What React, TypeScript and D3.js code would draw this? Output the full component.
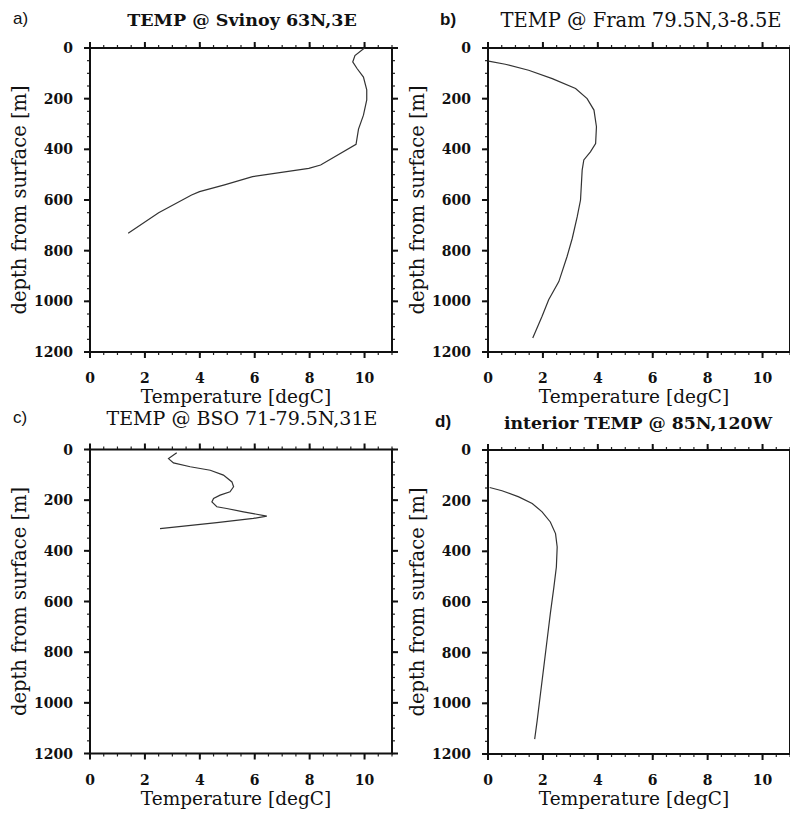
import React from "react";
import * as d3 from "d3";

// ---- data ----
const svinoyDepth = [0, 30, 55, 80, 115, 165, 205, 265, 320, 380, 462, 475, 508, 540, 567, 580, 650, 731];
const svinoyTemp = [10.0, 9.65, 9.57, 9.72, 9.96, 10.08, 10.08, 9.96, 9.78, 9.69, 8.4, 7.97, 5.92, 4.9, 3.99, 3.7, 2.5, 1.39];

const framDepth = [52, 64, 88, 121, 160, 200, 245, 311, 377, 410, 442, 482, 600, 666, 751, 823, 922, 994, 1059, 1145];
const framTemp = [0.02, 0.63, 1.48, 2.34, 3.19, 3.61, 3.86, 3.95, 3.92, 3.73, 3.49, 3.43, 3.37, 3.25, 3.07, 2.88, 2.58, 2.21, 1.97, 1.63];

const bsoDepth = [13, 36, 53, 68, 82, 101, 128, 147, 167, 180, 193, 207, 226, 233, 246, 263, 272, 289, 312];
const bsoTemp = [3.16, 2.86, 3.04, 3.65, 4.38, 4.86, 5.17, 5.23, 5.1, 4.74, 4.5, 4.44, 4.62, 4.98, 5.59, 6.44, 5.95, 4.62, 2.55];

const interiorDepth = [148, 161, 185, 211, 244, 284, 330, 383, 462, 541, 646, 752, 858, 963, 1069, 1141];
const interiorTemp = [0.06, 0.51, 1.12, 1.61, 1.97, 2.27, 2.46, 2.52, 2.49, 2.4, 2.27, 2.15, 2.03, 1.91, 1.79, 1.7];

const panelLabels = ["a)", "b)", "c)", "d)"];
const panelTitles = [
  "TEMP @ Svinoy 63N,3E",
  "TEMP @ Fram 79.5N,3-8.5E",
  "TEMP @ BSO 71-79.5N,31E",
  "interior TEMP @ 85N,120W",
];
const xTickValues = [0, 2, 4, 6, 8, 10];
const yTickValues = [0, 200, 400, 600, 800, 1000, 1200];
const xMinorStep = 0.5;
const yMinorStep = 50;
const xDomain: [number, number] = [0, 11];
const yDomain: [number, number] = [0, 1200];
const xAxisTitle = "Temperature [degC]";
const yAxisTitle = "depth from surface [m]";

const seriesDepths = [svinoyDepth, framDepth, bsoDepth, interiorDepth];
const seriesTemps = [svinoyTemp, framTemp, bsoTemp, interiorTemp];

// ---- layout ----
const W = 790;
const H = 813;
const PW = 302;
const PH = 304;
const panelPos = [
  { left: 90, top: 48, titleBase: 26, titleX: 242, titleSize: 17.5, bold: true, labelX: 13, labelBold: false },
  { left: 488, top: 48, titleBase: 27, titleX: 641, titleSize: 19.5, bold: false, labelX: 440, labelBold: true },
  { left: 90, top: 449.5, titleBase: 425, titleX: 242, titleSize: 19, bold: false, labelX: 13, labelBold: false },
  { left: 488, top: 450, titleBase: 429, titleX: 638, titleSize: 17.3, bold: true, labelX: 435, labelBold: true },
];

const serif = "'DejaVu Serif', 'Liberation Serif', serif";
const sans = "'Liberation Sans', Arial, sans-serif";

function Panel({ i }: { i: number }) {
  const p = panelPos[i];
  const x = d3.scaleLinear().domain(xDomain).range([p.left, p.left + PW]);
  const y = d3.scaleLinear().domain(yDomain).range([p.top, p.top + PH]);
  const depths = seriesDepths[i];
  const temps = seriesTemps[i];
  const pts = depths.map((d, k) => [temps[k], d] as [number, number]);
  const line = d3
    .line<[number, number]>()
    .x((d) => x(d[0]))
    .y((d) => y(d[1]));
  const xMinor = d3.range(xDomain[0], xDomain[1] + 1e-9, xMinorStep);
  const yMinor = d3.range(yDomain[0], yDomain[1] + 1e-9, yMinorStep);
  const x0 = x(xDomain[0]);
  const x1 = x(xDomain[1]);
  const y0 = y(yDomain[0]);
  const y1 = y(yDomain[1]);
  const maj = 6;
  const mn = 3;
  return (
    <g>
      <text x={p.labelX} y={p.titleBase - 2} fontFamily={sans} fontSize={17} fontWeight={p.labelBold ? "bold" : "normal"} fill="#111">
        {panelLabels[i]}
      </text>
      <text x={p.titleX} y={p.titleBase} textAnchor="middle" fontFamily={serif} fontSize={p.titleSize} fontWeight={p.bold ? "bold" : "normal"} fill="#111">
        {panelTitles[i]}
      </text>
      {/* minor ticks */}
      {xMinor.map((v) => (
        <g key={"xm" + v} stroke="#222" strokeWidth={1.2}>
          <line x1={x(v)} x2={x(v)} y1={y0} y2={y0 - mn} />
          <line x1={x(v)} x2={x(v)} y1={y1} y2={y1 + mn} />
        </g>
      ))}
      {yMinor.map((v) => (
        <g key={"ym" + v} stroke="#222" strokeWidth={1.2}>
          <line x1={x0} x2={x0 - mn} y1={y(v)} y2={y(v)} />
          <line x1={x1} x2={x1 + mn} y1={y(v)} y2={y(v)} />
        </g>
      ))}
      {/* major ticks */}
      {xTickValues.map((v) => (
        <g key={"xM" + v} stroke="#111" strokeWidth={2}>
          <line x1={x(v)} x2={x(v)} y1={y0} y2={y0 - maj} />
          <line x1={x(v)} x2={x(v)} y1={y1} y2={y1 + maj} />
        </g>
      ))}
      {yTickValues.map((v) => (
        <g key={"yM" + v} stroke="#111" strokeWidth={2}>
          <line x1={x0} x2={x0 - maj} y1={y(v)} y2={y(v)} />
          <line x1={x1} x2={x1 + maj} y1={y(v)} y2={y(v)} />
        </g>
      ))}
      <rect x={x0} y={y0} width={x1 - x0} height={y1 - y0} fill="none" stroke="#111" strokeWidth={2} />
      {xTickValues.map((v) => (
        <text key={"xl" + v} x={x(v)} y={y1 + 31} textAnchor="middle" fontFamily={serif} fontWeight="bold" fontSize={14} fill="#111">
          {v}
        </text>
      ))}
      {yTickValues.map((v) => (
        <text key={"yl" + v} x={x0 - 17} y={y(v) + 5} textAnchor="end" fontFamily={serif} fontWeight="bold" fontSize={14} fill="#111">
          {v}
        </text>
      ))}
      <text x={(x0 + x1) / 2 - 5} y={y1 + 51} textAnchor="middle" fontFamily={serif} fontSize={18.5} fill="#111">
        {xAxisTitle}
      </text>
      <text
        transform={`translate(${x0 - 64},${(y0 + y1) / 2}) rotate(-90)`}
        textAnchor="middle"
        fontFamily={serif}
        fontSize={19.5}
        fill="#111"
      >
        {yAxisTitle}
      </text>
      <path d={line(pts) || ""} fill="none" stroke="#333" strokeWidth={1.2} />
    </g>
  );
}

export default function App() {
  return (
    <svg width={W} height={H} style={{ position: "absolute", left: 0, top: 0, background: "#fff" }}>
      <rect width={W} height={H} fill="#fff" />
      {[0, 1, 2, 3].map((i) => (
        <Panel key={i} i={i} />
      ))}
    </svg>
  );
}
